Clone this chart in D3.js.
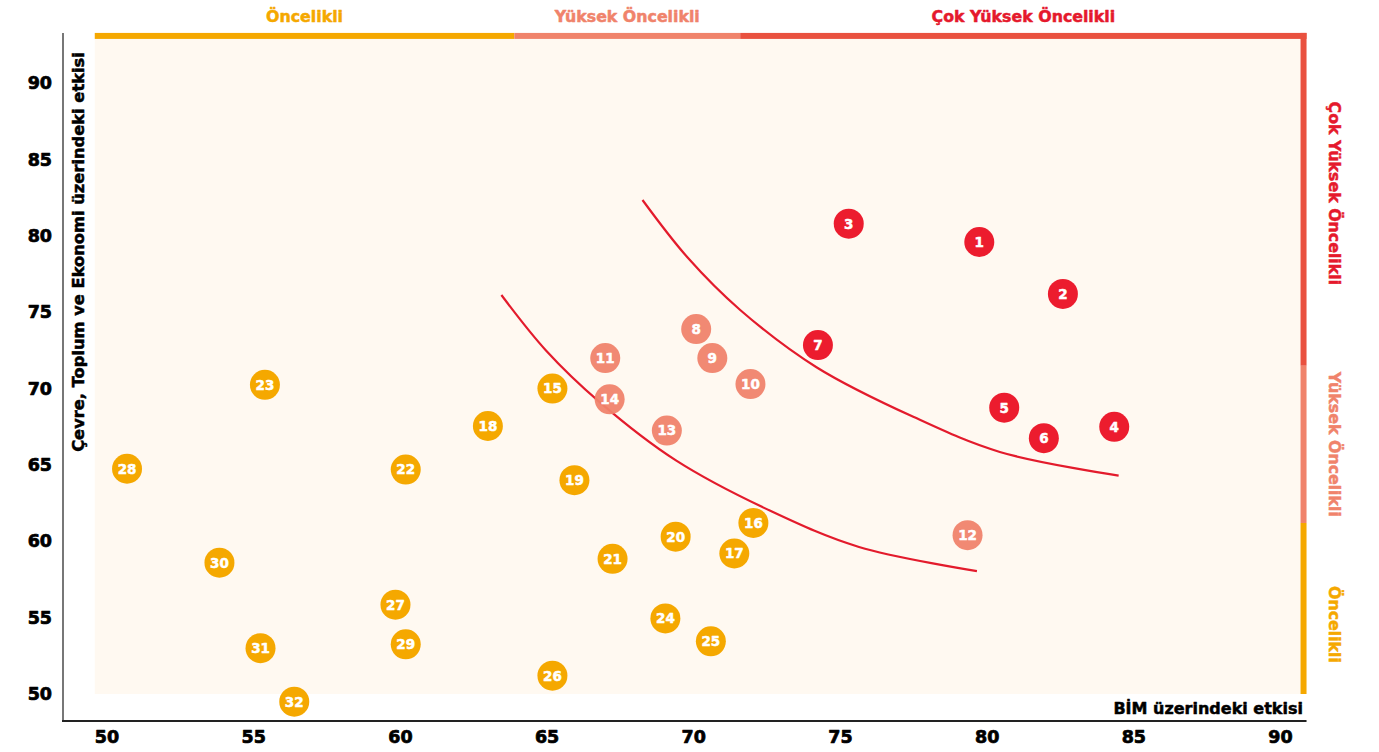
<!DOCTYPE html>
<html>
<head>
<meta charset="utf-8">
<script src="https://cdn.jsdelivr.net/npm/d3@7/dist/d3.min.js"></script>
<style>
	body { margin: 0; background: #fff; }
	svg { display: block; font-family: "DejaVu Sans", sans-serif; font-weight: bold; }
	.heavy { paint-order: stroke; stroke-linejoin: round; }
</style>
</head>
<body>
<div id="chart"></div>
<script>
	// topic ids, impact on BIM (x), impact on environment/society/economy (y)
	var ids = [1, 2, 3, 4, 5, 6, 7, 8, 9, 10, 11, 12, 13, 14, 15, 16,
		17, 18, 19, 20, 21, 22, 23, 24, 25, 26, 27, 28, 29, 30, 31, 32];
	var bimImpact = [79.75, 82.6, 75.3, 84.35, 80.6, 81.95, 74.25, 70.1, 70.65, 71.95, 67.0, 79.35, 69.1, 67.15, 65.2, 72.05,
		71.4, 63.0, 65.95, 69.4, 67.25, 60.2, 55.4, 69.05, 70.6, 65.2, 59.85, 50.7, 60.2, 53.85, 55.25, 56.4];
	var esgImpact = [79.6, 76.2, 80.8, 67.5, 68.75, 66.75, 72.85, 73.9, 72.0, 70.3, 72.0, 60.4, 67.25, 69.3, 70.0, 61.2,
		59.2, 67.55, 64.0, 60.3, 58.85, 64.7, 70.25, 54.95, 53.45, 51.2, 55.85, 64.75, 53.25, 58.6, 53.0, 49.5];
	// priority level of each topic: 2 = cok yuksek, 1 = yuksek, 0 = oncelikli
	var level = [2, 2, 2, 2, 2, 2, 2, 1, 1, 1, 1, 1, 1, 1, 0, 0,
		0, 0, 0, 0, 0, 0, 0, 0, 0, 0, 0, 0, 0, 0, 0, 0];

	var levelNames = ["Öncelikli", "Yüksek Öncelikli", "Çok Yüksek Öncelikli"];
	var levelColors = ["#f5a800", "#f0836b", "#ec1c2e"];
	var bandColors = ["#f5a800", "#f0836b", "#e9513f"];
	var textColors = ["#f5a800", "#f0836b", "#e5192c"];

	// band breaks along each axis
	var xBreaks = [49.6, 63.9, 71.6, 90.7];
	var yBreaks = [50, 61.2, 71.5, 92.9];

	var xTicks = [50, 55, 60, 65, 70, 75, 80, 85, 90];
	var yTicks = [50, 55, 60, 65, 70, 75, 80, 85, 90];

	// threshold curves
	var innerCurveX = [63.46, 64.98, 66.82, 69.41, 72.68, 75.65, 79.67];
	var innerCurveY = [76.13, 72.5, 69.1, 65.3, 61.95, 59.63, 58.05];
	var outerCurveX = [68.27, 69.8, 71.6, 74.2, 77.5, 80.45, 84.5];
	var outerCurveY = [82.35, 78.6, 75.15, 71.4, 68.15, 65.85, 64.3];

	var width = 1379, height = 752;
	var x = d3.scaleLinear().domain([50, 90]).range([106.5, 1280]);
	var y = d3.scaleLinear().domain([50, 90]).range([694, 83.2]);

	var svg = d3.select("#chart").append("svg")
		.attr("width", width)
		.attr("height", height);

	// panel background
	svg.append("rect")
		.attr("x", x(xBreaks[0]))
		.attr("y", y(yBreaks[3]))
		.attr("width", x(xBreaks[3]) - x(xBreaks[0]))
		.attr("height", y(yBreaks[0]) - y(yBreaks[3]))
		.attr("fill", "#fff9f1");

	var bandTop = y(yBreaks[3]) - 6;
	var bandRight = x(xBreaks[3]);

	// top band
	for (var i = 0; i < 3; i++) {
		var x0 = x(xBreaks[i]), x1 = (i == 2) ? bandRight + 6 : x(xBreaks[i + 1]);
		svg.append("rect")
			.attr("x", x0).attr("y", bandTop)
			.attr("width", x1 - x0).attr("height", 6)
			.attr("fill", bandColors[i]);
		svg.append("text")
			.attr("class", "heavy")
			.attr("x", (x0 + x1) / 2).attr("y", 22)
			.attr("text-anchor", "middle")
			.attr("font-size", 15.8)
			.attr("fill", textColors[i])
			.attr("stroke", textColors[i]).attr("stroke-width", 0.5)
			.text(levelNames[i]);
	}

	// right band
	for (var i = 0; i < 3; i++) {
		var y0 = (i == 2) ? bandTop : y(yBreaks[i + 1]), y1 = y(yBreaks[i]);
		svg.append("rect")
			.attr("x", bandRight).attr("y", y0)
			.attr("width", 6).attr("height", y1 - y0)
			.attr("fill", bandColors[i]);
		var cy = (y0 + y1) / 2 + (i == 0 ? 16 : 0) - (i == 2 ? 6 : 0);
		svg.append("text")
			.attr("class", "heavy")
			.attr("transform", "translate(1329," + cy + ") rotate(90)")
			.attr("text-anchor", "middle")
			.attr("font-size", 15.8)
			.attr("fill", textColors[i])
			.attr("stroke", textColors[i]).attr("stroke-width", 0.5)
			.text(levelNames[i]);
	}

	// axes lines
	svg.append("line")
		.attr("x1", 63).attr("x2", 63)
		.attr("y1", bandTop).attr("y2", 721)
		.attr("stroke", "#777").attr("stroke-width", 2);
	svg.append("line")
		.attr("x1", 62).attr("x2", bandRight + 6)
		.attr("y1", 721).attr("y2", 721)
		.attr("stroke", "#222").attr("stroke-width", 2);

	var xAxis = svg.append("g")
		.attr("transform", "translate(0,721)")
		.call(d3.axisBottom(x).tickValues(xTicks).tickSize(0).tickPadding(10));
	var yAxis = svg.append("g")
		.attr("transform", "translate(63,0)")
		.call(d3.axisLeft(y).tickValues(yTicks).tickSize(0).tickPadding(11));
	[xAxis, yAxis].forEach(function(g) {
		g.select(".domain").remove();
		g.selectAll("text")
			.attr("class", "heavy")
			.attr("font-family", "DejaVu Sans, sans-serif")
			.attr("font-size", 17.5)
			.attr("font-weight", "bold")
			.attr("fill", "#000")
			.attr("stroke", "#000").attr("stroke-width", 0.7);
	});

	// axis titles
	svg.append("text")
		.attr("class", "heavy")
		.attr("transform", "translate(84,252) rotate(-90)")
		.attr("text-anchor", "middle")
		.attr("font-size", 16.3)
		.attr("fill", "#000")
		.attr("stroke", "#000").attr("stroke-width", 0.5)
		.text("Çevre, Toplum ve Ekonomi üzerindeki etkisi");
	svg.append("text")
		.attr("class", "heavy")
		.attr("x", 1303).attr("y", 714)
		.attr("text-anchor", "end")
		.attr("font-size", 16)
		.attr("fill", "#000")
		.attr("stroke", "#000").attr("stroke-width", 0.5)
		.text("BİM üzerindeki etkisi");

	// curves
	var line = d3.line()
		.x(function(d) { return x(d[0]); })
		.y(function(d) { return y(d[1]); })
		.curve(d3.curveCatmullRom);
	[[innerCurveX, innerCurveY], [outerCurveX, outerCurveY]].forEach(function(c) {
		svg.append("path")
			.datum(d3.zip(c[0], c[1]))
			.attr("d", line)
			.attr("fill", "none")
			.attr("stroke", "#e31b2c")
			.attr("stroke-width", 2.2);
	});

	// points
	var points = ids.map(function(id, i) {
		return { id: id, bx: bimImpact[i], ey: esgImpact[i], lv: level[i] };
	});
	var dots = svg.append("g").selectAll("g")
		.data(points)
		.enter().append("g")
		.attr("transform", function(d) { return "translate(" + x(d.bx) + "," + y(d.ey) + ")"; });
	dots.append("circle")
		.attr("r", 15)
		.attr("fill", function(d) { return levelColors[d.lv]; })
		.attr("fill-opacity", function(d) { return d.lv == 1 ? 0.95 : 1; });
	dots.append("text")
		.attr("class", "heavy")
		.attr("text-anchor", "middle")
		.attr("dy", "0.36em")
		.attr("font-size", 13.5)
		.attr("fill", "#fff")
		.attr("stroke", "#fff").attr("stroke-width", 0.5)
		.text(function(d) { return d.id; });
</script>
</body>
</html>
